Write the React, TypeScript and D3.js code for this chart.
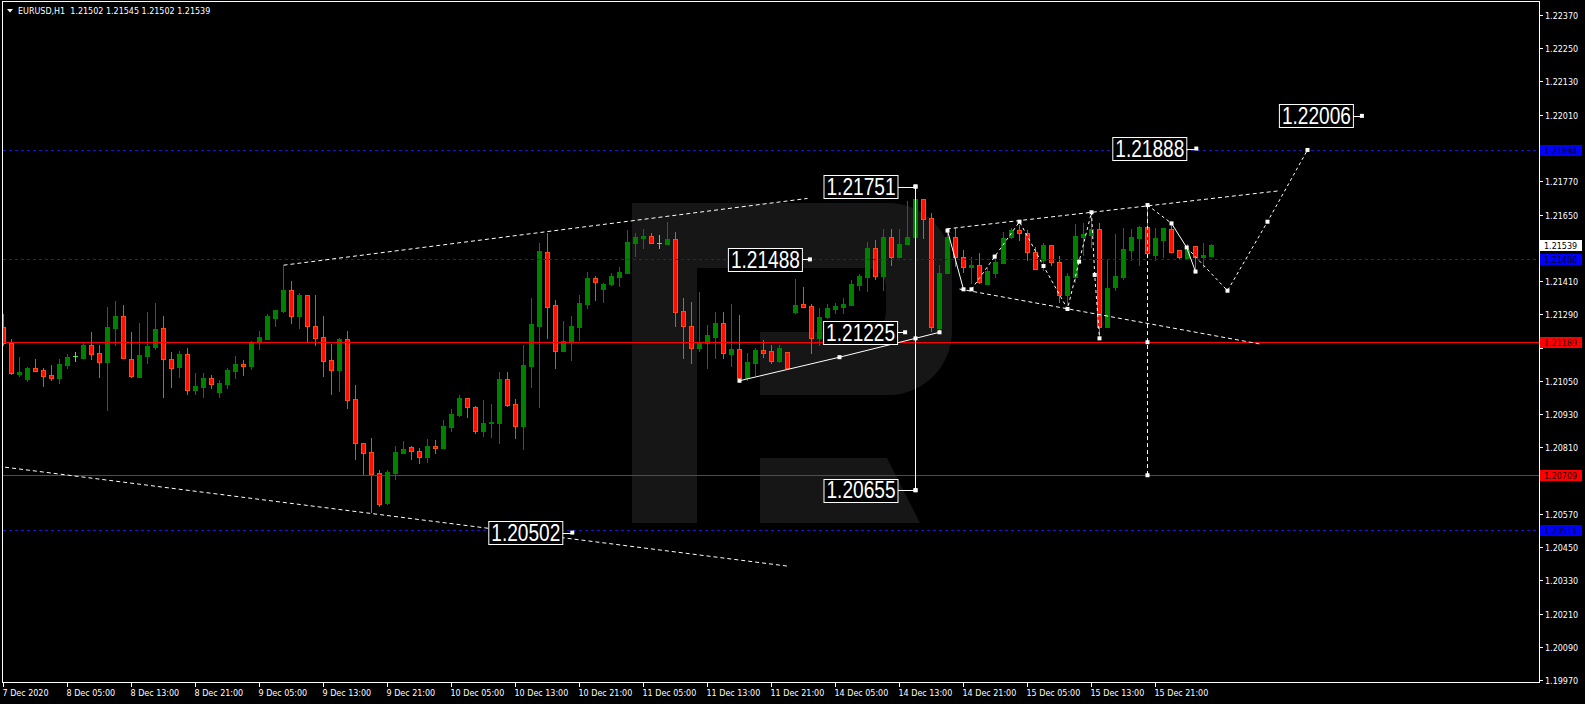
import React from 'react';
import * as d3 from 'd3';

const W = 1585;
const H = 704;

// ---- OHLC data (EURUSD H1), bar 0 = 7 Dec 21:00 ----
const opens = [
  1.21243, 1.21187, 1.21074, 1.21058, 1.21096, 1.21088, 1.21071, 1.21061, 1.21107, 1.21138,
  1.21133, 1.21178, 1.21150, 1.21119, 1.21242, 1.21284, 1.21129, 1.21065, 1.21141, 1.21173,
  1.21240, 1.21129, 1.21101, 1.21147, 1.21018, 1.21029, 1.21060, 1.21011, 1.21040, 1.21086,
  1.21110, 1.21104, 1.21191, 1.21202, 1.21278, 1.21302, 1.21378, 1.21285, 1.21360, 1.21248,
  1.21208, 1.21125, 1.21090, 1.21201, 1.20984, 1.20825, 1.20793, 1.20716, 1.20609, 1.20718,
  1.20790, 1.20811, 1.20796, 1.20776, 1.20815, 1.20807, 1.20884, 1.20926, 1.20987, 1.20955,
  1.20870, 1.20896, 1.20899, 1.21056, 1.20966, 1.20888, 1.21104, 1.21249, 1.21515, 1.21322,
  1.21159, 1.21195, 1.21245, 1.21328, 1.21421, 1.21380, 1.21400, 1.21426, 1.21440, 1.21548,
  1.21566, 1.21572, 1.21548, 1.21545, 1.21560, 1.21302, 1.21248, 1.21167, 1.21185, 1.21209,
  1.21257, 1.21146, 1.21165, 1.21061, 1.21115, 1.21161, 1.21157, 1.21122, 1.21153, 1.21298,
  1.21326, 1.21321, 1.21203, 1.21281, 1.21309, 1.21317, 1.21323, 1.21397, 1.21426, 1.21528,
  1.21428, 1.21570, 1.21498, 1.21543, 1.21570, 1.21705, 1.21636, 1.21242, 1.21438, 1.21568,
  1.21498, 1.21462, 1.21467, 1.21399, 1.21438, 1.21476, 1.21568, 1.21593, 1.21584, 1.21513,
  1.21486, 1.21540, 1.21477, 1.21360, 1.21426, 1.21570, 1.21576, 1.21597, 1.21243, 1.21387,
  1.21426, 1.21522, 1.21566, 1.21604, 1.21504, 1.21558, 1.21597, 1.21522, 1.21494, 1.21536,
  1.21495, 1.21502,
];
const highs = [
  1.21291, 1.21201, 1.21136, 1.21100, 1.21129, 1.21096, 1.21107, 1.21129, 1.21145, 1.21153,
  1.21185, 1.21226, 1.21179, 1.21316, 1.21338, 1.21323, 1.21226, 1.21258, 1.21298, 1.21331,
  1.21284, 1.21154, 1.21157, 1.21168, 1.21078, 1.21077, 1.21071, 1.21053, 1.21096, 1.21139,
  1.21125, 1.21194, 1.21230, 1.21291, 1.21305, 1.21464, 1.21410, 1.21367, 1.21360, 1.21360,
  1.21284, 1.21183, 1.21204, 1.21230, 1.21035, 1.20825, 1.20843, 1.20729, 1.20729, 1.20815,
  1.20833, 1.20815, 1.20806, 1.20840, 1.20836, 1.20908, 1.20947, 1.20999, 1.20987, 1.20960,
  1.20981, 1.20966, 1.21080, 1.21080, 1.20984, 1.21179, 1.21347, 1.21546, 1.21582, 1.21341,
  1.21266, 1.21284, 1.21359, 1.21442, 1.21428, 1.21402, 1.21438, 1.21462, 1.21594, 1.21584,
  1.21596, 1.21582, 1.21576, 1.21623, 1.21587, 1.21349, 1.21335, 1.21370, 1.21251, 1.21297,
  1.21297, 1.21327, 1.21287, 1.21149, 1.21169, 1.21197, 1.21178, 1.21179, 1.21153, 1.21417,
  1.21390, 1.21326, 1.21311, 1.21327, 1.21329, 1.21348, 1.21414, 1.21434, 1.21552, 1.21558,
  1.21596, 1.21596, 1.21598, 1.21700, 1.21751, 1.21705, 1.21654, 1.21467, 1.21597, 1.21600,
  1.21522, 1.21498, 1.21510, 1.21456, 1.21492, 1.21586, 1.21600, 1.21612, 1.21594, 1.21532,
  1.21546, 1.21540, 1.21501, 1.21438, 1.21615, 1.21618, 1.21654, 1.21618, 1.21491, 1.21580,
  1.21601, 1.21597, 1.21608, 1.21684, 1.21600, 1.21600, 1.21621, 1.21522, 1.21544, 1.21536,
  1.21546, 1.21545,
];
const lows = [
  1.21179, 1.21074, 1.21067, 1.21050, 1.21086, 1.21032, 1.21054, 1.21042, 1.21097, 1.21123,
  1.21133, 1.21130, 1.21065, 1.20944, 1.21179, 1.21131, 1.21065, 1.21065, 1.21115, 1.21166,
  1.20993, 1.21029, 1.21065, 1.21003, 1.21003, 1.20993, 1.21025, 1.20993, 1.21025, 1.21061,
  1.21072, 1.21094, 1.21166, 1.21202, 1.21249, 1.21299, 1.21260, 1.21242, 1.21191, 1.21180,
  1.21068, 1.21003, 1.21014, 1.20953, 1.20769, 1.20715, 1.20578, 1.20599, 1.20606, 1.20697,
  1.20788, 1.20766, 1.20752, 1.20758, 1.20788, 1.20807, 1.20867, 1.20923, 1.20920, 1.20860,
  1.20851, 1.20848, 1.20827, 1.20960, 1.20842, 1.20805, 1.21026, 1.20956, 1.21203, 1.21097,
  1.21159, 1.21126, 1.21198, 1.21313, 1.21341, 1.21335, 1.21396, 1.21392, 1.21440, 1.21501,
  1.21530, 1.21548, 1.21528, 1.21545, 1.21249, 1.21133, 1.21115, 1.21159, 1.21095, 1.21132,
  1.21133, 1.21104, 1.21052, 1.21053, 1.21071, 1.21137, 1.21115, 1.21119, 1.21097, 1.21293,
  1.21317, 1.21149, 1.21179, 1.21275, 1.21296, 1.21296, 1.21323, 1.21378, 1.21375, 1.21417,
  1.21378, 1.21468, 1.21498, 1.21543, 1.21536, 1.21566, 1.21228, 1.21225, 1.21438, 1.21464,
  1.21444, 1.21402, 1.21404, 1.21399, 1.21426, 1.21476, 1.21564, 1.21558, 1.21486, 1.21453,
  1.21450, 1.21468, 1.21335, 1.21323, 1.21408, 1.21504, 1.21532, 1.21203, 1.21243, 1.21378,
  1.21416, 1.21486, 1.21468, 1.21505, 1.21486, 1.21498, 1.21516, 1.21493, 1.21494, 1.21444,
  1.21459, 1.21502,
];
const closes = [
  1.21185, 1.21077, 1.21082, 1.21096, 1.21086, 1.21068, 1.21061, 1.21110, 1.21136, 1.21138,
  1.21179, 1.21148, 1.21119, 1.21244, 1.21284, 1.21131, 1.21068, 1.21143, 1.21175, 1.21237,
  1.21127, 1.21097, 1.21147, 1.21015, 1.21031, 1.21060, 1.21040, 1.21042, 1.21089, 1.21110,
  1.21104, 1.21187, 1.21208, 1.21284, 1.21305, 1.21378, 1.21285, 1.21360, 1.21249, 1.21206,
  1.21123, 1.21090, 1.21201, 1.20982, 1.20824, 1.20791, 1.20715, 1.20606, 1.20721, 1.20793,
  1.20805, 1.20795, 1.20776, 1.20815, 1.20808, 1.20887, 1.20930, 1.20988, 1.20954, 1.20870,
  1.20898, 1.20902, 1.21056, 1.20964, 1.20888, 1.21107, 1.21255, 1.21518, 1.21317, 1.21159,
  1.21192, 1.21248, 1.21329, 1.21420, 1.21408, 1.21399, 1.21428, 1.21442, 1.21551, 1.21569,
  1.21572, 1.21548, 1.21548, 1.21562, 1.21299, 1.21249, 1.21167, 1.21185, 1.21215, 1.21257,
  1.21149, 1.21165, 1.21061, 1.21116, 1.21160, 1.21151, 1.21122, 1.21167, 1.21097, 1.21322,
  1.21317, 1.21203, 1.21281, 1.21311, 1.21321, 1.21327, 1.21398, 1.21429, 1.21528, 1.21428,
  1.21570, 1.21498, 1.21542, 1.21570, 1.21706, 1.21634, 1.21243, 1.21438, 1.21568, 1.21498,
  1.21459, 1.21467, 1.21408, 1.21446, 1.21480, 1.21564, 1.21594, 1.21582, 1.21513, 1.21453,
  1.21540, 1.21477, 1.21360, 1.21429, 1.21572, 1.21580, 1.21598, 1.21243, 1.21386, 1.21428,
  1.21524, 1.21568, 1.21604, 1.21510, 1.21565, 1.21600, 1.21516, 1.21495, 1.21522, 1.21495,
  1.21504, 1.21539,
];

// ---- axes ----
const priceTicks = [
  1.2237, 1.2225, 1.2213, 1.2201, 1.2189, 1.2177, 1.2165, 1.2153, 1.2141, 1.2129, 1.2117,
  1.2105, 1.2093, 1.2081, 1.2069, 1.2057, 1.2045, 1.2033, 1.2021, 1.2009, 1.1997,
];
const timeLabels = [
  '7 Dec 2020', '8 Dec 05:00', '8 Dec 13:00', '8 Dec 21:00', '9 Dec 05:00', '9 Dec 13:00',
  '9 Dec 21:00', '10 Dec 05:00', '10 Dec 13:00', '10 Dec 21:00', '11 Dec 05:00', '11 Dec 13:00',
  '11 Dec 21:00', '14 Dec 05:00', '14 Dec 13:00', '14 Dec 21:00', '15 Dec 05:00', '15 Dec 13:00',
  '15 Dec 21:00',
];
const timeLabelBars = [0, 8, 16, 24, 32, 40, 48, 56, 64, 72, 80, 88, 96, 104, 112, 120, 128, 136, 144];

// ---- levels ----
const blueLevels = [1.21884, 1.21488, 1.20511];
const redLevels = [1.21189, 1.20709];
const lastPrice = 1.21539;
const headerText = 'EURUSD,H1  1.21502 1.21545 1.21502 1.21539';

// ---- annotations: [bar, price] ----
const upperTrend = [[35, 1.21467], [100.5, 1.21708]];
const lowerTrend = [[0.2, 1.20738], [98, 1.20381]];
const supportLine = [[92, 1.2105], [104.5, 1.21135], [114, 1.21203], [117, 1.21225]];
const rangeLine = [[114, 1.21751], [114, 1.20655]];
const wedgeUpper = [[117.9, 1.21598], [159.3, 1.21735]];
const wedgeLower = [[119.5, 1.21381], [157, 1.21183]];
const waveSolid = [[118, 1.21592], [120, 1.2138]];
const waveDashed = [
  [121, 1.2138], [123.9, 1.21498], [127, 1.21624], [130, 1.21464], [133, 1.21309],
  [134.45, 1.2148], [136, 1.21658], [136.4, 1.21432], [137, 1.21203],
];
const targetVertical = [[143, 1.21684], [143, 1.20709]];
const forecastA = [[143, 1.21684], [146, 1.21618]];
const forecastB = [[146, 1.21618], [147.9, 1.21531], [149, 1.21444]];
const forecastC = [[147.9, 1.21531], [153, 1.21375], [158, 1.21624], [163, 1.21883]];
const markerPoints = [
  [92, 1.2105], [104.5, 1.21135], [114, 1.21203], [117, 1.21225], [114, 1.21751], [114, 1.20655],
  [118, 1.21592], [120, 1.2138], [121, 1.2138], [127, 1.21624], [133, 1.21309], [136, 1.21658],
  [137, 1.21203], [123.9, 1.21498], [130, 1.21464], [134.45, 1.2148], [136.4, 1.21432],
  [143, 1.21684], [143, 1.21189], [143, 1.20709], [146, 1.21618], [147.9, 1.21531],
  [149, 1.21444], [153, 1.21375], [158, 1.21624], [163, 1.21883],
];
const labelTexts = ['1.21751', '1.21488', '1.21225', '1.20655', '1.21888', '1.22006', '1.20502'];
const labelBars = [114, 100.8, 112.7, 114, 149.1, 169.8, 71.1];
const labelPrices = [1.21751, 1.21488, 1.21225, 1.20655, 1.21888, 1.22006, 1.20502];
const labelGaps = [18, 8, 8, 18, 10, 9, 10];

const PLOT_L = 2.5;
const PLOT_T = 1.5;
const PLOT_R = 1539.5;
const PLOT_B = 682.5;
const WM = '#161616';

export default function App() {
  const x = d3.scaleLinear().domain([0, 151]).range([3.5, 1211.5]);
  const y = d3.scaleLinear().domain([1.1997, 1.2237]).range([680, 15]);
  const line = d3
    .line<number[]>()
    .x((d) => x(d[0]))
    .y((d) => y(d[1]));

  const candles = opens.map((o, i) => {
    const c = closes[i];
    const h = highs[i];
    const l = lows[i];
    const cx = Math.floor(x(i));
    const top = Math.round(y(Math.max(o, c)));
    const bot = Math.round(y(Math.min(o, c)));
    const yh = Math.round(y(h));
    const yl = Math.round(y(l));
    if (o === c) {
      return (
        <g key={i}>
          <line x1={cx + 0.5} x2={cx + 0.5} y1={yh} y2={yl + 1} stroke="#3cf03c" />
          <line x1={cx - 2} x2={cx + 3} y1={top + 0.5} y2={top + 0.5} stroke="#3cf03c" />
        </g>
      );
    }
    const bull = c > o;
    const wick = bull ? '#008000' : '#ff4500';
    return (
      <g key={i}>
        <line x1={cx + 0.5} x2={cx + 0.5} y1={yh} y2={yl + 1} stroke={wick} />
        {bull ? (
          <rect x={cx - 2} y={top} width={5} height={Math.max(1, bot - top + 1)} fill="#008000" />
        ) : (
          <rect
            x={cx - 1.5}
            y={top + 0.5}
            width={4}
            height={Math.max(0.5, bot - top)}
            fill="#ff0f00"
            stroke="#ff4a10"
          />
        )}
      </g>
    );
  });

  const font = "'DejaVu Sans', sans-serif";
  const levelYs = [...blueLevels, ...redLevels, lastPrice].map((p) => y(p));

  return (
    <svg
      width={W}
      height={H}
      style={{ position: 'absolute', left: 0, top: 0, display: 'block', background: '#000' }}
    >
      <defs>
        <clipPath id="plot">
          <rect x={3} y={2} width={1536} height={680} />
        </clipPath>
      </defs>
      <rect x={0} y={0} width={W} height={H} fill="#000" />

      {/* watermark logo */}
      <g fill={WM}>
        <rect x={632} y={203} width={65} height={320} />
        <path d="M697,203 H888 A64,64 0 0 1 952,267 V331 A64,64 0 0 1 888,395 H760 V332 H866 A20,20 0 0 0 886,312 V288 A20,20 0 0 0 866,268 H697 Z" />
        <path d="M760,458 H887 L920,523 H760 Z" />
      </g>

      <g clipPath="url(#plot)">
        {candles}

        {/* level lines */}
        {redLevels.map((p, i) => (
          <line key={'r' + i} x1={3} x2={1539} y1={Math.round(y(p)) + 0.5} y2={Math.round(y(p)) + 0.5} stroke="#ff0000" />
        ))}
        {blueLevels.map((p, i) => (
          <line
            key={'b' + i}
            x1={3}
            x2={1539}
            y1={Math.round(y(p)) + 0.5}
            y2={Math.round(y(p)) + 0.5}
            stroke="#1414e6"
            strokeDasharray="3,3"
          />
        ))}

        {/* annotations */}
        <g fill="none" stroke="#fff" strokeWidth={1}>
          <path d={line(upperTrend as any) || ''} strokeDasharray="4,3" />
          <path d={line(lowerTrend as any) || ''} strokeDasharray="4,3" />
          <path d={line(supportLine as any) || ''} />
          <path d={line(rangeLine as any) || ''} />
          <path d={line(wedgeUpper as any) || ''} strokeDasharray="4,3" />
          <path d={line(wedgeLower as any) || ''} strokeDasharray="4,3" />
          <path d={line(waveSolid as any) || ''} />
          <path d={line(waveDashed as any) || ''} strokeDasharray="3,3" />
          <path d={line(targetVertical as any) || ''} strokeDasharray="4,3" />
          <path d={line(forecastA as any) || ''} strokeDasharray="3,3" />
          <path d={line(forecastB as any) || ''} />
          <path d={line(forecastC as any) || ''} strokeDasharray="3,3" />
        </g>
        {markerPoints.map((p, i) => (
          <rect key={'m' + i} x={x(p[0]) - 2} y={y(p[1]) - 2} width={4} height={4} fill="#fff" />
        ))}

        {/* big price labels */}
        {labelTexts.map((t, i) => {
          const ax = x(labelBars[i]);
          const cy = y(labelPrices[i]);
          const right = ax - labelGaps[i];
          const left = right - 74;
          return (
            <g key={'L' + i}>
              <line x1={right} x2={ax} y1={Math.round(cy) + 0.5} y2={Math.round(cy) + 0.5} stroke="#fff" />
              <rect x={ax - 2} y={cy - 2} width={4} height={4} fill="#fff" />
              <rect x={left + 0.5} y={Math.round(cy - 11.5) + 0.5} width={74} height={23} fill="#000" stroke="#fff" />
              <text
                x={left + 3}
                y={cy + 8.3}
                fill="#fff"
                fontFamily="'Liberation Sans Narrow', 'Liberation Sans', sans-serif"
                fontSize={23}
                textLength={69}
                lengthAdjust="spacingAndGlyphs"
              >
                {t}
              </text>
            </g>
          );
        })}
      </g>

      {/* header */}
      <path d="M7,9 L13,9 L10,12.5 Z" fill="#fff" />
      <text x={18} y={14} fill="#fff" fontFamily={font} fontSize={8} style={{ whiteSpace: 'pre' }}>
        {headerText}
      </text>

      {/* frame */}
      <rect x={PLOT_L} y={PLOT_T} width={PLOT_R - PLOT_L} height={PLOT_B - PLOT_T} fill="none" stroke="#fff" />

      {/* price axis */}
      {priceTicks.map((p, i) => {
        const yy = Math.round(y(p)) + 0.5;
        const hidden = levelYs.some((ly) => Math.abs(ly - yy) < 9);
        return (
          <g key={'pt' + i}>
            <line x1={1540} x2={1543} y1={yy} y2={yy} stroke="#fff" />
            {!hidden && (
              <text x={1545} y={yy + 3} fill="#fff" fontFamily={font} fontSize={8}>
                {p.toFixed(5)}
              </text>
            )}
          </g>
        );
      })}
      {blueLevels.map((p, i) => {
        const yy = y(p);
        return (
          <g key={'bl' + i}>
            <rect x={1540} y={Math.round(yy) - 5} width={42} height={11} fill="#0000ff" />
            <text x={1544} y={Math.round(yy) + 3.5} fill="#00001a" fontFamily={font} fontSize={8}>
              {p.toFixed(5)}
            </text>
          </g>
        );
      })}
      {redLevels.map((p, i) => {
        const yy = y(p);
        return (
          <g key={'rl' + i}>
            <rect x={1540} y={Math.round(yy) - 5} width={42} height={11} fill="#ff0000" />
            <text x={1544} y={Math.round(yy) + 3.5} fill="#1a0000" fontFamily={font} fontSize={8}>
              {p.toFixed(5)}
            </text>
          </g>
        );
      })}
      <g>
        <rect x={1540} y={Math.round(y(lastPrice)) - 5} width={42} height={11} fill="#fff" />
        <text x={1544} y={Math.round(y(lastPrice)) + 3.5} fill="#000" fontFamily={font} fontSize={8}>
          {lastPrice.toFixed(5)}
        </text>
      </g>

      {/* time axis */}
      {timeLabels.map((t, i) => {
        const xx = Math.floor(x(timeLabelBars[i])) + 0.5;
        return (
          <g key={'tl' + i}>
            <line x1={xx} x2={xx} y1={683} y2={687} stroke="#fff" />
            <text x={xx - 1} y={696} fill="#fff" fontFamily={font} fontSize={8}>
              {t}
            </text>
          </g>
        );
      })}
    </svg>
  );
}
